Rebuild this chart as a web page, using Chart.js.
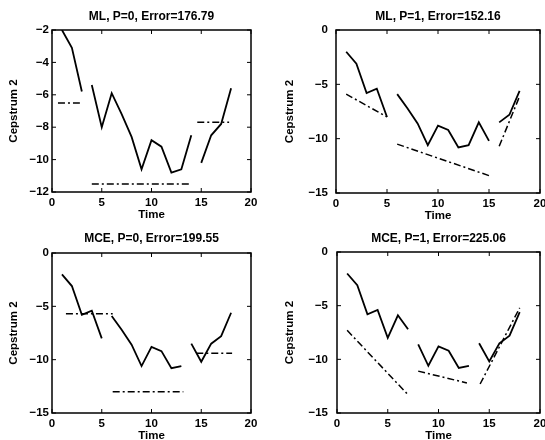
<!DOCTYPE html>
<html>
<head>
<meta charset="utf-8">
<script src="https://cdn.jsdelivr.net/npm/chart.js@4"></script>
<style>
  html, body { margin: 0; padding: 0; background: #fff; overflow: hidden; }
  body { width: 545px; height: 440px; position: relative; }
  canvas { position: absolute; }
</style>
</head>
<body>
<canvas id="c0"></canvas>
<canvas id="c1"></canvas>
<canvas id="c2"></canvas>
<canvas id="c3"></canvas>
<script>
// Observed cepstrum track (same in all four panels)
const time = [1, 2, 3, 4, 5, 6, 7, 8, 9, 10, 11, 12, 13, 14, 15, 16, 17, 18];
const cepstrum2 = [-2.0, -3.1, -5.8, -5.4, -8.0, -5.9, -7.2, -8.6, -10.6, -8.8, -9.2, -10.8, -10.6, -8.5, -10.2, -8.5, -7.8, -5.6];

const titles = ["ML, P=0, Error=176.79", "ML, P=1, Error=152.16", "MCE, P=0, Error=199.55", "MCE, P=1, Error=225.06"];

// last time index of each segment (solid line is broken between segments)
const mlP0Ends = [3, 14, 18];
const mlP1Ends = [5, 15, 18];
const mceP0Ends = [5, 13, 18];
const mceP1Ends = [7, 13, 18];

// fitted segment trajectories (dash-dot), start/end per segment
const mlP0FitX = [[0.6, 2.8], [4, 14], [14.6, 17.8]];
const mlP0FitY = [[-6.5, -6.5], [-11.5, -11.5], [-7.7, -7.7]];
const mlP1FitX = [[1, 5], [6, 15], [16, 18]];
const mlP1FitY = [[-5.9, -8.0], [-10.5, -13.4], [-10.7, -6.1]];
const mceP0FitX = [[1.4, 6.1], [6.1, 13.2], [14.5, 18.1]];
const mceP0FitY = [[-5.7, -5.7], [-13.0, -13.0], [-9.4, -9.4]];
const mceP1FitX = [[1, 7], [8, 12.8], [14.1, 18]];
const mceP1FitY = [[-7.3, -13.3], [-11.1, -12.2], [-12.3, -5.2]];

const yRanges = [[-12, -2, 2], [-15, 0, 5], [-15, 0, 5], [-15, 0, 5]];

// panel placement: canvas origin, size, plot box, title / y-title centre
const panels = [
  { cx: 0,   cy: 0,   w: 290, h: 222, L: 52,  T: 30,  R: 251, B: 192, titleY: 16.5, yTitleX: 14,  tickPad: 3, ends: mlP0Ends,  fx: mlP0FitX,  fy: mlP0FitY },
  { cx: 272, cy: 0,   w: 290, h: 223, L: 336, T: 30,  R: 540, B: 193, titleY: 16.5, yTitleX: 290, tickPad: 8, ends: mlP1Ends,  fx: mlP1FitX,  fy: mlP1FitY },
  { cx: 0,   cy: 220, w: 290, h: 223, L: 52,  T: 253, R: 251, B: 413, titleY: 238.5, yTitleX: 14, tickPad: 3, ends: mceP0Ends, fx: mceP0FitX, fy: mceP0FitY },
  { cx: 272, cy: 220, w: 290, h: 223, L: 337, T: 252, R: 540, B: 413, titleY: 238.5, yTitleX: 290, tickPad: 9, ends: mceP1Ends, fx: mceP1FitX, fy: mceP1FitY },
];

const family = "'Liberation Sans', Arial, sans-serif";
const titleFont = { family, weight: "bold", size: 12, lineHeight: 1.2 };
const axisFont = { family, weight: "bold", size: 11.5, lineHeight: 1.2 };
const tickFont = { family, weight: "bold", size: 11.5, lineHeight: 1.2 };
const X_AXIS_H = 30;

const minusTick = (v) => String(v).replace("-", "\u2212");

// box around the plot plus inward ticks on all four sides
const boxTicks = {
  id: "boxTicks",
  afterDatasetsDraw(chart) {
    const { ctx, chartArea: a, scales: { x, y } } = chart;
    ctx.save();
    ctx.strokeStyle = "#000";
    ctx.lineWidth = 1.5;
    ctx.strokeRect(a.left, a.top, a.right - a.left, a.bottom - a.top);
    ctx.lineWidth = 1;
    ctx.beginPath();
    x.ticks.forEach(t => {
      const px = x.getPixelForValue(t.value);
      ctx.moveTo(px, a.bottom); ctx.lineTo(px, a.bottom - 4);
      ctx.moveTo(px, a.top); ctx.lineTo(px, a.top + 4);
    });
    y.ticks.forEach(t => {
      const py = y.getPixelForValue(t.value);
      ctx.moveTo(a.left, py); ctx.lineTo(a.left + 4, py);
      ctx.moveTo(a.right, py); ctx.lineTo(a.right - 4, py);
    });
    ctx.stroke();
    ctx.restore();
  }
};

panels.forEach((p, i) => {
  const canvas = document.getElementById("c" + i);
  canvas.width = p.w; canvas.height = p.h;
  canvas.style.left = p.cx + "px"; canvas.style.top = p.cy + "px";
  canvas.style.width = p.w + "px"; canvas.style.height = p.h + "px";

  const datasets = [];
  let start = 0;
  p.ends.forEach((end, s) => {
    const pts = [];
    for (let k = start; k < end; k++) pts.push({ x: time[k], y: cepstrum2[k] });
    datasets.push({ data: pts, borderColor: "#000", borderWidth: 1.8, pointRadius: 0, showLine: true, tension: 0 });
    datasets.push({
      data: [{ x: p.fx[s][0], y: p.fy[s][0] }, { x: p.fx[s][1], y: p.fy[s][1] }],
      borderColor: "#000", borderWidth: 1.5, borderDash: [7, 3, 2, 3],
      pointRadius: 0, showLine: true, tension: 0
    });
    start = end;
  });

  const [ymin, ymax, ystep] = yRanges[i];
  const tlh = titleFont.size * titleFont.lineHeight;
  const alh = axisFont.size * axisFont.lineHeight;

  new Chart(canvas, {
    type: "scatter",
    data: { datasets },
    options: {
      responsive: false,
      animation: false,
      events: [],
      layout: { padding: { left: 0, top: 0, right: p.cx + p.w - p.R, bottom: p.cy + p.h - p.B - X_AXIS_H } },
      plugins: {
        legend: { display: false },
        tooltip: { enabled: false },
        title: {
          display: true, text: titles[i], color: "#000", fullSize: false,
          font: titleFont,
          padding: { top: p.titleY - p.cy - tlh / 2, bottom: p.T - p.titleY - tlh / 2 }
        }
      },
      scales: {
        x: {
          type: "linear", min: 0, max: 20,
          afterFit: (s) => { s.height = X_AXIS_H; },
          grid: { display: false, drawTicks: false },
          border: { display: false },
          ticks: { stepSize: 5, color: "#000", font: tickFont, padding: 4, maxRotation: 0, callback: minusTick },
          title: { display: true, text: "Time", color: "#000", font: axisFont, padding: { top: 0, bottom: 0 } }
        },
        y: {
          type: "linear", min: ymin, max: ymax,
          afterFit: (s) => { s.width = p.L - p.cx; },
          grid: { display: false, drawTicks: false },
          border: { display: false },
          ticks: { stepSize: ystep, color: "#000", font: tickFont, padding: p.tickPad, callback: minusTick },
          title: { display: true, text: "Cepstrum 2", color: "#000", font: axisFont, padding: { top: p.yTitleX - p.cx - alh / 2, bottom: 0 } }
        }
      }
    },
    plugins: [boxTicks]
  });
});
</script>
</body>
</html>
